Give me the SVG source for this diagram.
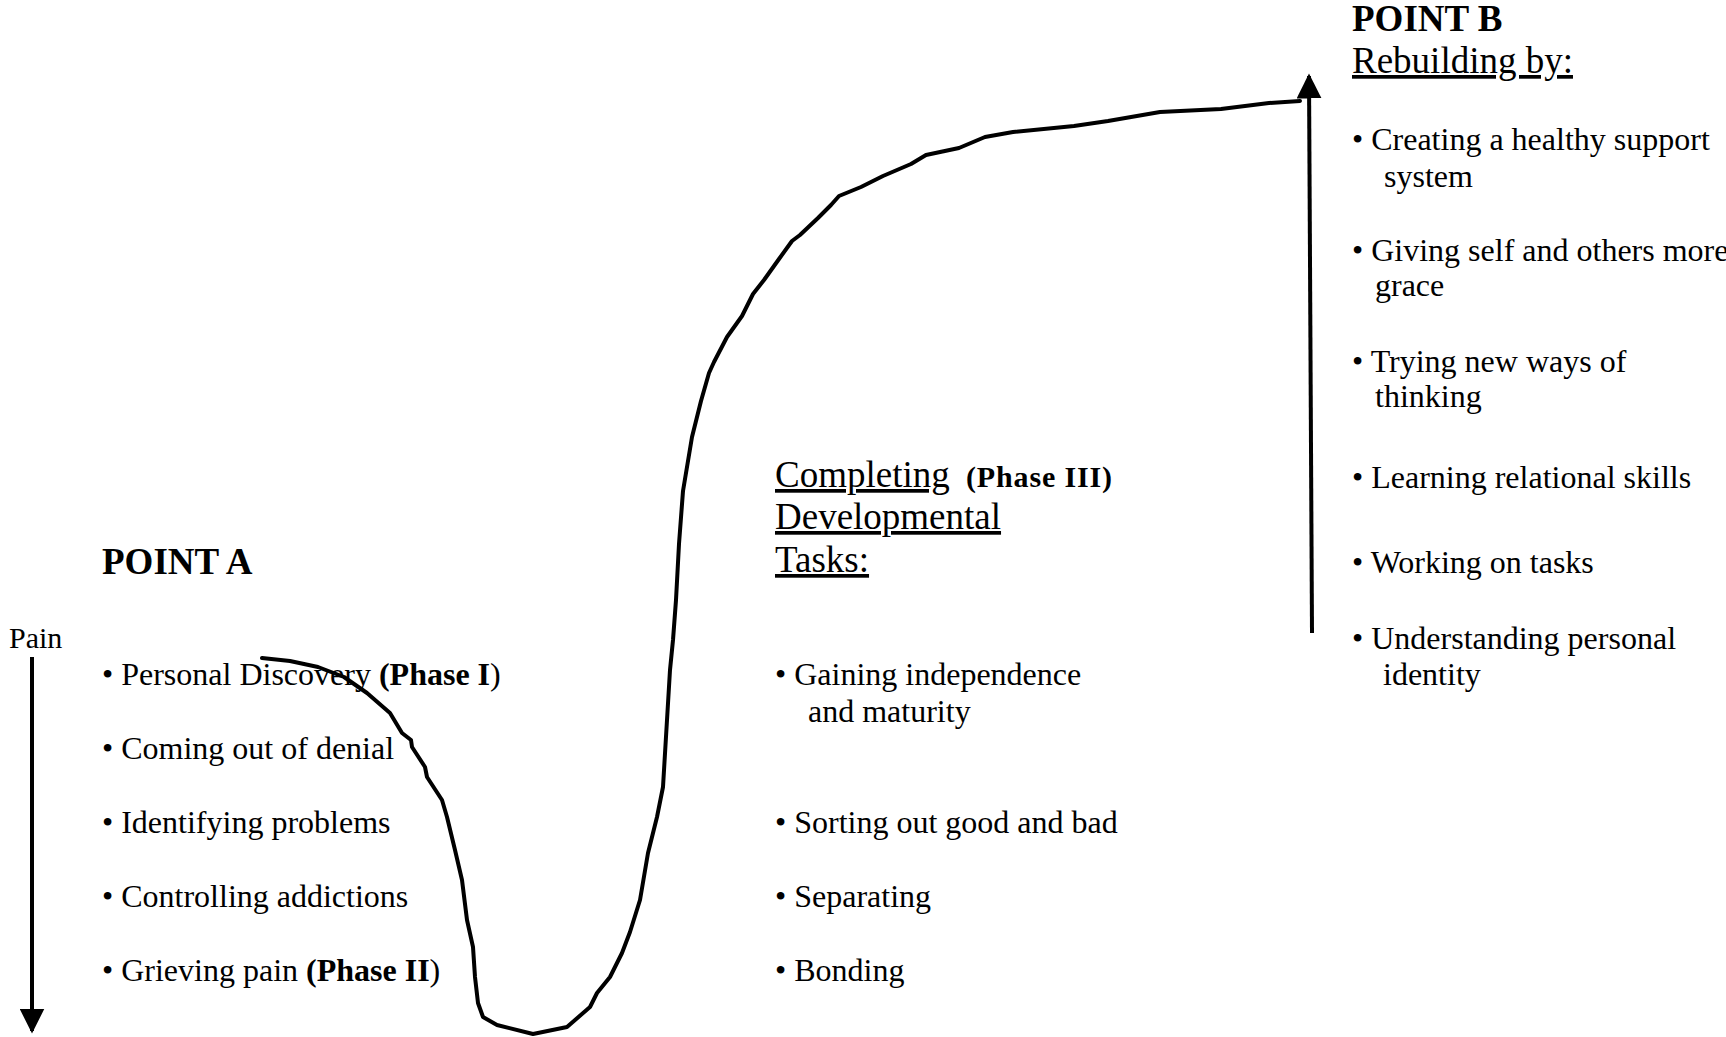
<svg xmlns="http://www.w3.org/2000/svg" width="1726" height="1037" viewBox="0 0 1726 1037">
<style>
text{font-family:"Liberation Serif","Times New Roman",serif;fill:#000}
.t{font-size:32px}
.h{font-size:37px}
.b{font-weight:bold}
.u{text-decoration:underline}
.ln{fill:none;stroke:#000;stroke-width:4;stroke-linejoin:round;stroke-linecap:round}
.ax{stroke:#000;stroke-width:4}
</style>
<defs>
<marker id="ah" viewBox="0 0 10 10" refX="9" refY="5" markerWidth="25" markerHeight="25" markerUnits="userSpaceOnUse" orient="auto">
<path d="M0,0 L10,5 L0,10 Z" fill="#000"/>
</marker>
</defs>
<rect width="1726" height="1037" fill="#fff"/>
<g id="connectors">
<path id="curve" class="ln" d="M262,658 L290,661 L318,667 L344,677 L367,693 L390,713 L402,733 L411,740 L412,747 L425,767 L427,777 L442,800 L447,817 L455,850 L462,880 L467,920 L473,947 L475,977 L478,1003 L483,1017 L497,1025 L533,1034 L567,1027 L590,1007 L597,993 L610,977 L622,953 L630,932 L640,900 L648,853 L657,817 L663,787 L667,720 L670,670 L673,640 L676,600 L679,544 L683,491 L692,437 L701,401 L709,373 L714,362 L727,337 L742,316 L753,294 L764,280 L779,259 L792,241 L800,235 L818,218 L831,205 L839,196 L861,187 L883,176 L911,164 L926,155 L959,148 L985,137 L1013,132 L1074,126 L1108,121 L1160,112 L1221,109 L1269,103 L1300,101"/>
<line id="pain-arrow" class="ax" x1="32" y1="657" x2="32" y2="1031" marker-end="url(#ah)"/>
<line id="rebuild-arrow" class="ax" x1="1312" y1="633" x2="1309" y2="76" marker-end="url(#ah)"/>
</g>
<g id="point-a">
<text class="h b" x="102" y="574">POINT A</text>
<text class="t" x="9" y="648" style="font-size:30px">Pain</text>
<text class="t" x="102" y="685">• Personal Discovery <tspan class="b">(Phase I</tspan>)</text>
<text class="t" x="102" y="759">• Coming out of denial</text>
<text class="t" x="102" y="833">• Identifying problems</text>
<text class="t" x="102" y="907">• Controlling addictions</text>
<text class="t" x="102" y="981">• Grieving pain <tspan class="b">(Phase II</tspan>)</text>
</g>
<g id="tasks">
<text class="h u" x="775" y="487">Completing</text>
<text class="b" x="966" y="487" style="font-size:30px" textLength="146">(Phase III)</text>
<text class="h u" x="775" y="529">Developmental</text>
<text class="h u" x="775" y="572">Tasks:</text>
<text class="t" x="775" y="685">• Gaining independence</text>
<text class="t" x="808" y="722">and maturity</text>
<text class="t" x="775" y="833">• Sorting out good and bad</text>
<text class="t" x="775" y="907">• Separating</text>
<text class="t" x="775" y="981">• Bonding</text>
</g>
<g id="point-b">
<text class="h b" x="1352" y="31">POINT B</text>
<text class="h u" x="1352" y="73">Rebuilding by:</text>
<text class="t" x="1352" y="150">• Creating a healthy support</text>
<text class="t" x="1384" y="187">system</text>
<text class="t" x="1352" y="261">• Giving self and others more</text>
<text class="t" x="1375" y="296">grace</text>
<text class="t" x="1352" y="372">• Trying new ways of</text>
<text class="t" x="1375" y="407">thinking</text>
<text class="t" x="1352" y="488">• Learning relational skills</text>
<text class="t" x="1352" y="573">• Working on tasks</text>
<text class="t" x="1352" y="649">• Understanding personal</text>
<text class="t" x="1383" y="685">identity</text>
</g>
</svg>
